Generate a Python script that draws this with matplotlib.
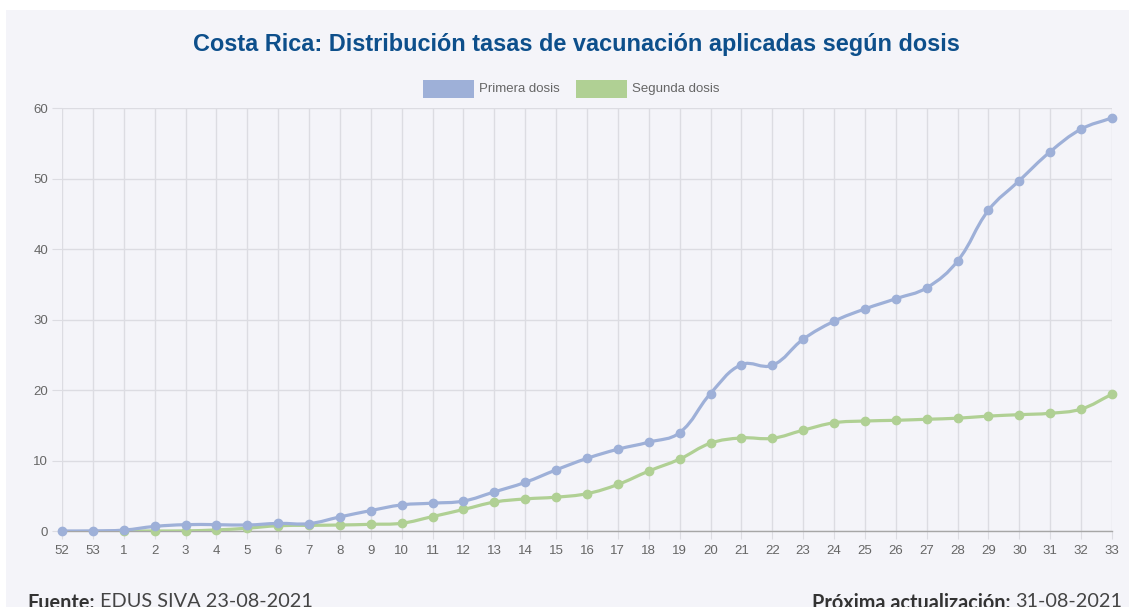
import numpy as np
import matplotlib
matplotlib.use("Agg")
import matplotlib.pyplot as plt
from matplotlib.path import Path
from matplotlib.patches import PathPatch, Rectangle

weeks = ["52", "53"] + [str(i) for i in range(1, 34)]
primera = [0.0, 0.02, 0.13, 0.65, 0.9, 0.9, 0.85, 1.08, 1.05, 2.0, 2.9, 3.7, 3.95, 4.25,
           5.55, 6.9, 8.67, 10.3, 11.6, 12.6, 13.95, 19.5, 23.6, 23.5, 27.2, 29.75,
           31.5, 32.95, 34.5, 38.3, 45.5, 49.7, 53.8, 57.0, 58.6]
segunda = [None, None, 0.0, 0.0, 0.02, 0.15, 0.4, 0.75, 0.8, 0.85, 0.95, 1.1, 2.05, 3.05,
           4.1, 4.55, 4.8, 5.3, 6.6, 8.5, 10.2, 12.45, 13.2, 13.15, 14.3, 15.35,
           15.6, 15.7, 15.85, 16.0, 16.3, 16.5, 16.7, 17.3, 19.4]

title = "Costa Rica: Distribución tasas de vacunación aplicadas según dosis"
labels = ["Primera dosis", "Segunda dosis"]
colors = ["#9eb0d8", "#b0d094"]

W, H = 1129, 607
fig = plt.figure(figsize=(W / 100, H / 100), dpi=100)
fig.patch.set_facecolor("white")
bg = "#f4f4f9"
fig.patches.append(Rectangle((6 / W, 0), 1, 1 - 10 / H, transform=fig.transFigure,
                             facecolor=bg, edgecolor="none", zorder=-10))

L, R, T, B = 62, 1112, 108, 531
ax = fig.add_axes([L / W, 1 - B / H, (R - L) / W, (B - T) / H])
ax.set_facecolor(bg)
n = len(weeks)
ax.set_xlim(0, n - 1)
ax.set_ylim(0, 60)
sx = (R - L) / (n - 1)
sy = (B - T) / 60.0


def spline_path(xs, ys, tension=0.4):
    px = np.array(xs, float) * sx
    py = np.array(ys, float) * sy
    m = len(px)
    cps = []
    for i in range(m):
        p0 = (px[max(i - 1, 0)], py[max(i - 1, 0)])
        p1 = (px[i], py[i])
        p2 = (px[min(i + 1, m - 1)], py[min(i + 1, m - 1)])
        d01 = np.hypot(p1[0] - p0[0], p1[1] - p0[1])
        d12 = np.hypot(p2[0] - p1[0], p2[1] - p1[1])
        tot = d01 + d12
        s01 = d01 / tot if tot else 0
        s12 = d12 / tot if tot else 0
        fa, fb = tension * s01, tension * s12
        prev = (p1[0] - fa * (p2[0] - p0[0]), p1[1] - fa * (p2[1] - p0[1]))
        nxt = (p1[0] + fb * (p2[0] - p0[0]), p1[1] + fb * (p2[1] - p0[1]))
        cps.append((prev, nxt))
    verts = [(px[0], py[0])]
    codes = [Path.MOVETO]
    for i in range(1, m):
        c1 = cps[i - 1][1]
        c2 = cps[i][0]
        verts += [c1, c2, (px[i], py[i])]
        codes += [Path.CURVE4] * 3
    verts = [(vx / sx, max(min(vy / sy, 60), 0)) for vx, vy in verts]
    return Path(verts, codes)


series = [primera, segunda]
for k in [1, 0]:
    vals = series[k]
    xs = [i for i, v in enumerate(vals) if v is not None]
    ys = [v for v in vals if v is not None]
    z = 5 if k == 0 else 4
    ax.add_patch(PathPatch(spline_path(xs, ys), facecolor="none", edgecolor=colors[k],
                           lw=2.3, zorder=z, capstyle="round", joinstyle="round"))
    ax.plot(xs, ys, "o", color=colors[k], ms=6, mec=colors[k], zorder=z, clip_on=False)

# grid
ax.set_xticks(range(n))
ax.set_xticklabels(weeks)
ax.set_yticks([0, 10, 20, 30, 40, 50, 60])
ax.grid(True, color="#dcdce2", lw=1)
ax.set_axisbelow(True)
for s in ["top", "right", "left"]:
    ax.spines[s].set_visible(False)
ax.spines["bottom"].set_color("#a6a6a6")
ax.spines["bottom"].set_linewidth(1)
ax.tick_params(axis="x", length=6, color="#dcdce2", labelsize=9.5, labelcolor="#666666", pad=4)
ax.tick_params(axis="y", length=7, color="#dcdce2", labelsize=9.5, labelcolor="#666666", pad=3)
for lab in ax.get_xticklabels() + ax.get_yticklabels():
    lab.set_family(["Liberation Sans", "DejaVu Sans"])

# title
fig.text(576 / W, 1 - 44 / H, title, ha="center", va="center", fontsize=16.9,
         fontweight="bold", color="#0d4f8b", family=["Liberation Sans", "DejaVu Sans"])

# legend
for i, (lx, tx) in enumerate([(423, 479), (576, 632)]):
    fig.patches.append(Rectangle((lx / W, 1 - 97.5 / H), 51 / W, 17.5 / H,
                                 transform=fig.transFigure, facecolor=colors[i],
                                 edgecolor="none"))
    fig.text(tx / W, 1 - 89 / H, labels[i], ha="left", va="center", fontsize=9.5,
             color="#666666", family=["Liberation Sans", "DejaVu Sans"])

# footer
ff = ["Lato", "DejaVu Sans"]
y_f = 1 - 593 / H
t1 = fig.text(27 / W, y_f, "Fuente:", ha="left", va="top", fontsize=14.3,
              fontweight="bold", color="#333333", family=ff)
fig.canvas.draw()
r = fig.canvas.get_renderer()
bb = t1.get_window_extent(r)
fig.text((bb.x1 + 5) / W, y_f, "EDUS SIVA 23-08-2021", ha="left", va="top",
         fontsize=14.3, color="#444444", family=ff)
t3 = fig.text(1122 / W, y_f, "31-08-2021", ha="right", va="top", fontsize=14.3,
              color="#444444", family=ff)
bb3 = t3.get_window_extent(r)
fig.text((bb3.x0 - 5) / W, y_f, "Próxima actualización:", ha="right", va="top",
         fontsize=14.3, fontweight="bold", color="#333333", family=ff)

fig.savefig("out.png", dpi=100, facecolor=fig.get_facecolor())
